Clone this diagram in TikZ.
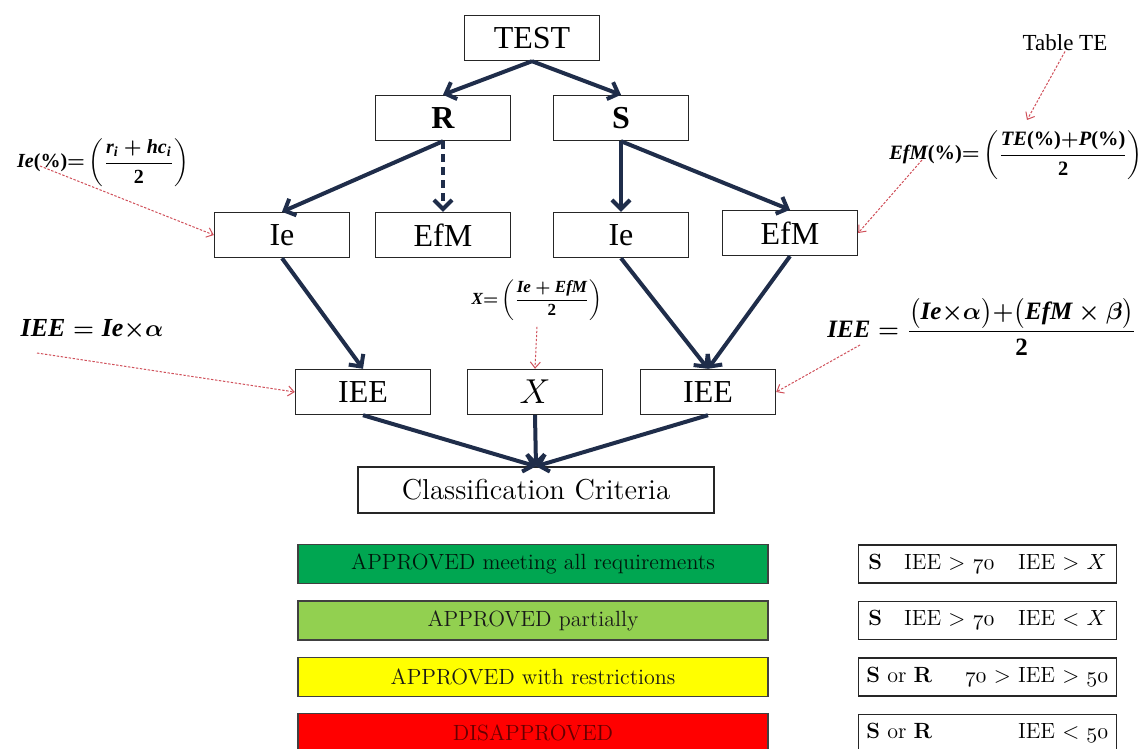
\documentclass[tikz,border=0pt]{standalone}
\usepackage{fontspec}
\usepackage{amsmath}
\usepackage{amssymb}
\usetikzlibrary{
  arrows.meta,
  positioning,
  calc
}
\newfontfamily\tnr{Liberation Serif}
\newcommand\osn[1]{$\mathnormal{#1}$}
\newcommand\bi[1]{\text{\tnr\bfseries\itshape #1}}
\newcommand\bup[1]{\text{\tnr\bfseries #1}}
\definecolor{ccNavy}{HTML}{1F2D4A}
\definecolor{ccHint}{HTML}{D0505A}
\definecolor{ccGreen}{HTML}{00A651}
\definecolor{ccLime}{HTML}{92D050}
\definecolor{ccYellow}{HTML}{FFFF00}
\definecolor{ccAlarm}{HTML}{FF0000}
\tikzset{
  ccnode/.style={
    draw=black!85, line width=0.7pt, minimum width=67.5pt, minimum height=22.5pt,
    inner sep=0pt, font=\tnr\fontsize{16}{18}\selectfont
  },
  critbox/.style={ccnode, minimum width=178pt, minimum height=23pt, font=\fontsize{14.4}{17}\selectfont},
  gradebar/.style={
    draw=black!75, line width=0.7pt, minimum width=235pt, minimum height=19.5pt,
    inner sep=0pt, font=\fontsize{11}{13}\selectfont
  },
  rulebox/.style={
    draw=black!85, line width=0.7pt, minimum width=129pt, minimum height=19pt,
    inner sep=0pt, font=\fontsize{11}{13}\selectfont
  },
  formula/.style={inner sep=0pt},
  link/.style={-{Straight Barb[length=4.5pt,width=9pt]}, line width=2pt, ccNavy},
  hint/.style={-{Straight Barb[length=3pt,width=5pt]}, line width=0.5pt, ccHint, dash pattern=on 1.2pt off 0.8pt}
}
\begin{document}
\begin{tikzpicture}[x=0.5pt, y=-0.5pt, node distance=8pt]
  \useasboundingbox (0,0) rectangle (1142,749);
  % tree
  \node[ccnode] (test) at (532,38) {TEST};
  \node[ccnode] (r) at (443,118) {\textbf{R}};
  \node[ccnode] (s) at (621,118) {\textbf{S}};
  \node[ccnode] (ie1) at (282,235) {Ie};
  \node[ccnode] (efm1) at (443,235) {EfM};
  \node[ccnode] (ie2) at (621,235) {Ie};
  \node[ccnode] (efm2) at (790,233) {EfM};
  \node[ccnode] (iee1) at (363,392) {IEE};
  \node[ccnode, font=\fontsize{16}{18}\selectfont] (xbox) at (535,392) {$X$};
  \node[ccnode] (iee2) at (708,392) {IEE};
  \node[critbox] (crit) at (536,490) {Classification Criteria};

  \draw[link] (test.south) -- (r.north);
  \draw[link] (test.south) -- (s.north);
  \draw[link] (r.south) -- (ie1.north);
  \draw[link, dash pattern=on 4pt off 2.5pt] (r.south) -- (efm1.north);
  \draw[link] (s.south) -- (ie2.north);
  \draw[link] (s.south) -- (efm2.north);
  \draw[link] (ie1.south) -- (iee1.north);
  \draw[link] (ie2.south) -- (iee2.north);
  \draw[link] (efm2.south) -- (iee2.north);
  \draw[link] (iee1.south) -- (crit.north);
  \draw[link] (xbox.south) -- (crit.north);
  \draw[link] (iee2.south) -- (crit.north);

  % formulas
  \node[formula, font=\boldmath\fontsize{10}{12}\selectfont] (ieform) at (103,163)
    {$\bi{Ie}\bup{(\%)}{=}\left(\dfrac{\bi{r}_{\bi{i}}+\bi{hc}_{\bi{i}}}{\bup{2}}\right)$};
  \node[formula, font=\tnr\fontsize{11.5}{13}\selectfont] (tabte) at (1065,43) {Table TE};
  \node[formula, font=\boldmath\fontsize{10.2}{12}\selectfont] (efmform) at (1016,155)
    {$\bi{EfM}\bup{(\%)}{=}\left(\dfrac{\bi{TE}\bup{(\%)}{+}\bi{P}\bup{(\%)}}{\bup{2}}\right)$};
  \node[formula, font=\boldmath\fontsize{8.5}{10}\selectfont] (xform) at (537,300)
    {$\bi{X}{=}\left(\dfrac{\bi{Ie}+\bi{EfM}}{\bup{2}}\right)$};
  \node[formula, font=\boldmath\fontsize{13}{15}\selectfont] (alphaform) at (92,330)
    {$\bi{IEE}=\bi{Ie}{\times}\alpha$};
  \node[formula, font=\boldmath\fontsize{12.5}{15}\selectfont] (ieeform) at (982,327)
    {$\bi{IEE}=\dfrac{\bigl(\bi{Ie}{\times}\alpha\bigr){+}\bigl(\bi{EfM}\times\beta\bigr)}{\bup{2}}$};

  \coordinate (ieTail) at (40,166);
  \coordinate (teHead) at (1027,120);
  \coordinate (efmTail) at (922,160);
  \coordinate (ieeTail) at (860,345);
  \coordinate (alphaTail) at (37,353);
  \draw[hint] (ieTail) -- (ie1.west);
  \draw[hint] (tabte.south) -- (teHead);
  \draw[hint] (efmTail) -- (efm2.east);
  \draw[hint] ([yshift=-3pt]xform.south) -- (xbox.north);
  \draw[hint] (ieeTail) -- (iee2.east);
  \draw[hint] (alphaTail) -- (iee1.west);

  % grades
  \node[gradebar, fill=ccGreen, text=black!85!ccGreen] (bar1) at (533,564) {APPROVED meeting all requirements};
  \node[gradebar, fill=ccLime, text=black!90, below=of bar1] (bar2) {APPROVED partially};
  \node[gradebar, fill=ccYellow, text=black!90, below=of bar2] (bar3) {APPROVED with restrictions};
  \node[gradebar, fill=ccAlarm, text=black!60!ccAlarm, below=of bar3] (bar4) {DISAPPROVED};

  \node[rulebox, right=44.5pt of bar1] (rule1)
    {\makebox[119pt]{\textbf{S}\hspace{11pt}IEE $>$ \osn{70}\hfill IEE $>$ $X$}};
  \node[rulebox, right=44.5pt of bar2] (rule2)
    {\makebox[119pt]{\textbf{S}\hspace{11pt}IEE $>$ \osn{70}\hfill IEE $<$ $X$}};
  \node[rulebox, right=44.5pt of bar3] (rule3)
    {\makebox[121pt]{\textbf{S} or \textbf{R}\hfill\osn{70} $>$ IEE $>$ \osn{50}}};
  \node[rulebox, right=44.5pt of bar4] (rule4)
    {\makebox[121pt]{\textbf{S} or \textbf{R}\hfill IEE $<$ \osn{50}}};
\end{tikzpicture}
\end{document}
